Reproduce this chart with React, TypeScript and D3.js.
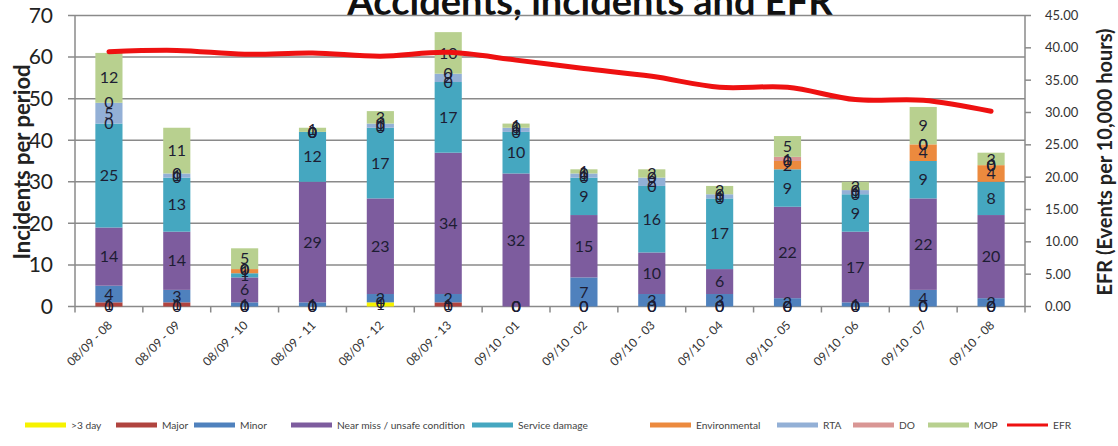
import React from "react";
import * as d3 from "d3";

const categories = [
  "08/09 - 08", "08/09 - 09", "08/09 - 10", "08/09 - 11", "08/09 - 12", "08/09 - 13",
  "09/10 - 01", "09/10 - 02", "09/10 - 03", "09/10 - 04", "09/10 - 05", "09/10 - 06",
  "09/10 - 07", "09/10 - 08",
];
const threeDay = [0, 0, 0, 0, 1, 0, 0, 0, 0, 0, 0, 0, 0, 0];
const major = [1, 1, 0, 0, 0, 1, 0, 0, 0, 0, 0, 0, 0, 0];
const minor = [4, 3, 1, 1, 2, 2, 0, 7, 3, 3, 2, 1, 4, 2];
const nearMiss = [14, 14, 6, 29, 23, 34, 32, 15, 10, 6, 22, 17, 22, 20];
const serviceDamage = [25, 13, 1, 12, 17, 17, 10, 9, 16, 17, 9, 9, 9, 8];
const environmental = [0, 0, 1, 0, 0, 0, 0, 0, 0, 0, 2, 0, 4, 4];
const rta = [5, 1, 0, 0, 1, 2, 1, 1, 2, 1, 0, 1, 0, 0];
const dOs = [0, 0, 0, 0, 0, 0, 0, 0, 0, 0, 1, 0, 0, 0];
const mop = [12, 11, 5, 1, 3, 10, 1, 1, 2, 2, 5, 2, 9, 3];
const efr = [39.4, 39.6, 39.0, 39.2, 38.7, 39.3, 38.1, 36.8, 35.6, 33.9, 33.9, 32.0, 31.9, 30.2];

const seriesNames = [">3 day", "Major", "Minor", "Near miss / unsafe condition", "Service damage", "Environmental", "RTA", "DO", "MOP"];
const seriesValues = [threeDay, major, minor, nearMiss, serviceDamage, environmental, rta, dOs, mop];
const seriesColors = ["#f6f200", "#b0443f", "#4f81bd", "#7d5c9e", "#45a7c0", "#ec8a3e", "#93b0d6", "#d99694", "#b8d08f"];

const leftTicks = [0, 10, 20, 30, 40, 50, 60, 70];
const rightTicks = [0, 5, 10, 15, 20, 25, 30, 35, 40, 45];

const W = 1118, H = 446;
const X0 = 75, X1 = 1025, Y0 = 306.5, Y1 = 15.5;
const FONT = "Lato, 'Open Sans', sans-serif";

export default function App() {
  const x = d3.scaleBand<string>().domain(categories).range([X0, X1]).paddingInner(0.6).paddingOuter(0.3);
  const yL = d3.scaleLinear().domain([0, 70]).range([Y0, Y1]);
  const yR = d3.scaleLinear().domain([0, 45]).range([Y0, Y1]);

  const table = categories.map((c, i) => {
    const row: any = { cat: c };
    seriesNames.forEach((n, s) => (row[n] = seriesValues[s][i]));
    return row;
  });
  const stacked = d3.stack().keys(seriesNames)(table);

  const line = d3
    .line<number>()
    .x((_, i) => (x(categories[i]) as number) + x.bandwidth() / 2)
    .y((d) => yR(d))
    .curve(d3.curveCatmullRom.alpha(0.5));

  const boundaries = d3.range(categories.length + 1).map((i) => X0 + i * ((X1 - X0) / categories.length));

  const legendX = [25, 116, 194, 291, 472, 650, 777, 853, 928];

  return (
    <svg width={W} height={H} style={{ position: "absolute", left: 0, top: 0, background: "#fff" }} fontFamily={FONT}>
      {/* title */}
      <text x={590} y={15} textAnchor="middle" fontSize={38} fontWeight={700} fill="#111">
        Accidents, incidents and EFR
      </text>

      {/* gridlines */}
      {leftTicks.map((t) => (
        <line key={t} x1={X0 - 7} x2={X1} y1={yL(t)} y2={yL(t)} stroke="#8a8a8a" strokeWidth={1.5} />
      ))}
      <line x1={X0} x2={X0} y1={Y1} y2={Y0} stroke="#8a8a8a" strokeWidth={1.5} />
      <line x1={X1} x2={X1} y1={Y1} y2={Y0} stroke="#8a8a8a" strokeWidth={1.5} />
      {rightTicks.map((t) => (
        <line key={t} x1={X1} x2={X1 + 6} y1={yR(t)} y2={yR(t)} stroke="#8a8a8a" strokeWidth={1.5} />
      ))}
      {boundaries.map((b, i) => (
        <line key={i} x1={b} x2={b} y1={Y0} y2={Y0 + 6} stroke="#8a8a8a" strokeWidth={1.5} />
      ))}

      {/* left tick labels */}
      {leftTicks.map((t) => (
        <text key={t} x={53} y={yL(t)} dy="0.35em" textAnchor="end" fontSize={21} fill="#222">
          {t}
        </text>
      ))}
      {/* right tick labels */}
      {rightTicks.map((t) => (
        <text key={t} x={1045} y={yR(t)} dy="0.35em" textAnchor="start" fontSize={13} fill="#333">
          {t.toFixed(2)}
        </text>
      ))}

      {/* axis titles */}
      <text transform={`translate(30,162) rotate(-90)`} textAnchor="middle" fontSize={22} fontWeight={700} fill="#222">
        Incidents per period
      </text>
      <text transform={`translate(1112,162) rotate(-90)`} textAnchor="middle" fontSize={20} fontWeight={700} fill="#222">
        EFR (Events per 10,000 hours)
      </text>

      {/* bars */}
      {stacked.map((layer, s) => (
        <g key={layer.key} fill={seriesColors[s]}>
          {layer.map((d, i) => (
            <rect
              key={i}
              x={x(categories[i])}
              width={x.bandwidth()}
              y={yL(d[1])}
              height={Math.max(0, yL(d[0]) - yL(d[1]))}
            />
          ))}
        </g>
      ))}

      {/* data labels */}
      {stacked.map((layer, s) => (
        <g key={"l" + layer.key}>
          {layer.map((d, i) => (
            <text
              key={i}
              x={(x(categories[i]) as number) + x.bandwidth() / 2}
              y={yL((d[0] + d[1]) / 2)}
              dy="0.35em"
              textAnchor="middle"
              fontSize={16}
              fill="#1d1d33"
            >
              {d[1] - d[0]}
            </text>
          ))}
        </g>
      ))}

      {/* EFR line */}
      <path d={line(efr) || ""} fill="none" stroke="#ee1111" strokeWidth={5} strokeLinecap="round" />

      {/* x labels */}
      {categories.map((c) => {
        const cx = (x(c) as number) + x.bandwidth() / 2 + 4;
        return (
          <text key={c} transform={`translate(${cx},326) rotate(-45)`} textAnchor="end" fontSize={12} fill="#333">
            {c}
          </text>
        );
      })}

      {/* legend */}
      {seriesNames.map((n, s) => (
        <g key={n} transform={`translate(${legendX[s]},425)`}>
          <rect x={0} y={-2.5} width={41} height={5} fill={seriesColors[s]} />
          <text x={46} y={0} dy="0.35em" fontSize={10.2} fill="#444">
            {n}
          </text>
        </g>
      ))}
      <g transform="translate(1007,425)">
        <line x1={0} x2={41} y1={0} y2={0} stroke="#ee1111" strokeWidth={3} />
        <text x={46} y={0} dy="0.35em" fontSize={10.2} fill="#444">EFR</text>
      </g>
    </svg>
  );
}
